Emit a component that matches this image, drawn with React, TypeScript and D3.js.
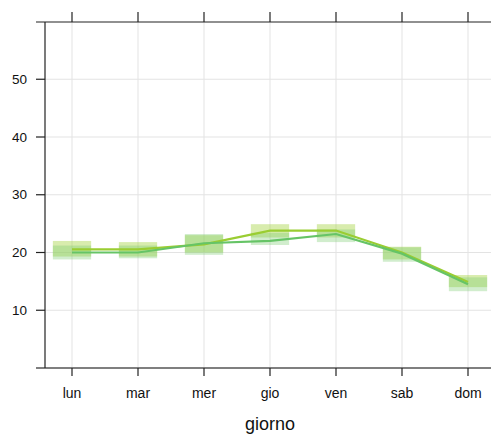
import React from 'react';
import * as d3 from 'd3';

const days = ['lun', 'mar', 'mer', 'gio', 'ven', 'sab', 'dom'];
const yTicks = [10, 20, 30, 40, 50];

// serie 1 (giallo-verde)
const meanA = [20.55, 20.55, 21.4, 23.8, 23.8, 20.0, 14.9];
const lowA = [19.3, 19.3, 20.0, 22.6, 22.6, 18.8, 14.0];
const highA = [22.0, 21.8, 23.0, 24.9, 24.9, 21.0, 16.1];

// serie 2 (verde)
const meanB = [20.0, 20.0, 21.6, 22.0, 23.2, 19.8, 14.5];
const lowB = [18.8, 19.0, 19.6, 21.3, 21.8, 18.4, 13.3];
const highB = [21.2, 21.2, 23.2, 23.4, 24.0, 20.9, 15.7];

const series = [
  { mean: meanA, low: lowA, high: highA, line: '#9acd32', fill: '#a8d44a', fillOpacity: 0.45 },
  { mean: meanB, low: lowB, high: highB, line: '#66c466', fill: '#7ccb6f', fillOpacity: 0.35 },
];

export default function App() {
  const width = 491;
  const height = 434;
  const left = 45;
  const top = 22;
  const bottom = 368;
  const right = 495;

  const x = d3.scalePoint<string>().domain(days).range([72, 468]);
  const y = d3.scaleLinear().domain([0, 60]).range([bottom, top - 0.5]);
  const boxW = x.step() * 0.58;

  const line = d3
    .line<number>()
    .x((_, i) => x(days[i]) as number)
    .y((d) => y(d));

  const font = 'Liberation Sans, Arial, sans-serif';

  return (
    <svg width={width} height={height} style={{ position: 'absolute', left: 0, top: 0 }}>
      <rect width={width} height={height} fill="white" />
      {/* griglia */}
      <g stroke="#e3e3e3" strokeWidth={1}>
        {days.map((d) => (
          <line key={d} x1={x(d)} x2={x(d)} y1={top} y2={bottom} />
        ))}
        {yTicks.map((t) => (
          <line key={t} x1={left} x2={right} y1={y(t)} y2={y(t)} />
        ))}
      </g>
      {/* intervalli */}
      {series.map((s, si) => (
        <g key={'b' + si}>
          {days.map((d, i) => (
            <rect
              key={d}
              x={(x(d) as number) - boxW / 2}
              width={boxW}
              y={y(s.high[i])}
              height={y(s.low[i]) - y(s.high[i])}
              fill={s.fill}
              fillOpacity={s.fillOpacity}
            />
          ))}
        </g>
      ))}
      {/* linee */}
      {series.map((s, si) => (
        <path key={'l' + si} d={line(s.mean) || ''} fill="none" stroke={s.line} strokeWidth={2.2} />
      ))}
      {/* assi */}
      <g stroke="#222" strokeWidth={1.2} fill="none">
        <line x1={36} x2={width} y1={top} y2={top} />
        <line x1={36} x2={width} y1={bottom} y2={bottom} stroke="#555" strokeWidth={1.5} />
        <line x1={left} x2={left} y1={top} y2={bottom} />
        {days.map((d) => (
          <line key={'t' + d} x1={x(d)} x2={x(d)} y1={12} y2={top} />
        ))}
        {days.map((d) => (
          <line key={'b' + d} x1={x(d)} x2={x(d)} y1={bottom} y2={bottom + 8} />
        ))}
        {yTicks.map((t) => (
          <line key={'y' + t} x1={36} x2={left} y1={y(t)} y2={y(t)} />
        ))}
      </g>
      <g fontFamily={font} fill="#111">
        {yTicks.map((t) => (
          <text key={t} x={27} y={y(t)} dy="0.35em" textAnchor="end" fontSize={13.5}>
            {t}
          </text>
        ))}
        {days.map((d) => (
          <text key={d} x={x(d)} y={393} dy="0.35em" textAnchor="middle" fontSize={14}>
            {d}
          </text>
        ))}
      </g>
      <text x={270} y={424} dy="0.35em" textAnchor="middle" fontFamily={font} fontSize={18} fill="#111">
        giorno
      </text>
    </svg>
  );
}
